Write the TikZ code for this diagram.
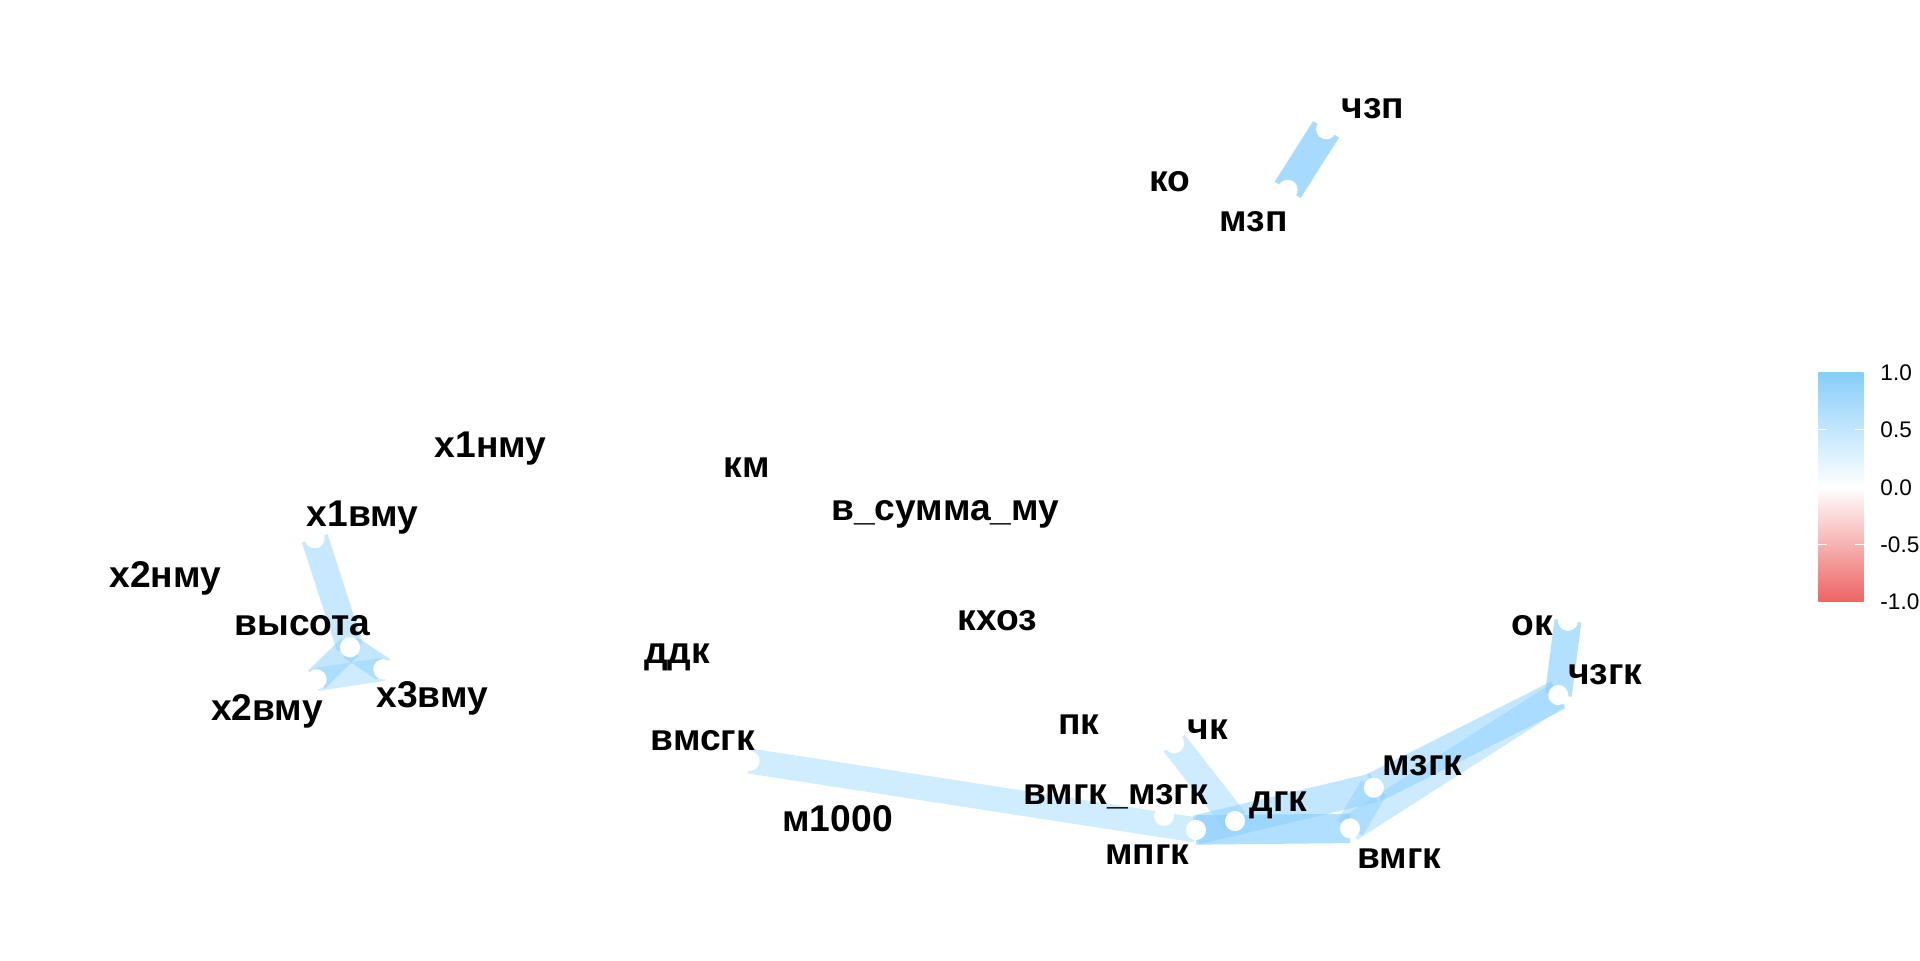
\documentclass[tikz,border=0pt]{standalone}
\usepackage{fontspec}
\setmainfont{Liberation Sans}
\definecolor{edgeblue}{HTML}{87CEFF}
\definecolor{legtop}{HTML}{87CEFA}
\definecolor{legbot}{HTML}{EE6363}
\begin{document}
\begin{tikzpicture}[x=1bp,y=-1bp,
  edge/.style={draw=edgeblue,line cap=butt},
  dot/.style={circle,fill=white,draw=none,minimum size=16.4bp,inner sep=0pt},
  lab/.style={anchor=base,inner sep=0pt,font=\fontsize{30.5}{30.5}\selectfont\bfseries},
  leglab/.style={anchor=west,inner sep=0pt,font=\fontsize{18.5}{18.5}\selectfont},
  tick/.style={draw=white,line width=1bp}]
\path[use as bounding box] (0,0) rectangle (1568,784);
% node positions
\coordinate (czp) at (1083,105.6);
\coordinate (mzp) at (1051.6,155);
\coordinate (x1vmu) at (257,439.6);
\coordinate (vys) at (285.8,528.6);
\coordinate (x2vmu) at (258.6,554.8);
\coordinate (x3vmu) at (313,546.6);
\coordinate (vmsgk) at (612.2,621.5);
\coordinate (vmgkmzgk) at (950.6,666.4);
\coordinate (mpgk) at (976.7,677.8);
\coordinate (dgk) at (1008.6,670.5);
\coordinate (ck) at (958.9,607);
\coordinate (mzgk) at (1122,643.3);
\coordinate (vmgk) at (1102.5,676.5);
\coordinate (czgk) at (1272.6,567.6);
\coordinate (ok) at (1280.5,507);
% edges
\draw[edge,line width=25bp,draw opacity=0.74] (czp) -- (mzp);
\draw[edge,line width=22bp,draw opacity=0.47] (x1vmu) -- (vys);
\draw[edge,line width=20bp,draw opacity=0.5] (vys) -- (x2vmu);
\draw[edge,line width=20bp,draw opacity=0.5] (vys) -- (x3vmu);
\draw[edge,line width=19bp,draw opacity=0.4] (x2vmu) -- (x3vmu);
\draw[edge,line width=20.5bp,draw opacity=0.39] (vmsgk) -- (mpgk);
\draw[edge,line width=22bp,draw opacity=0.4] (ck) -- (dgk);
\draw[edge,line width=24bp,draw opacity=0.65] (mpgk) -- (vmgk);
\draw[edge,line width=24bp,draw opacity=0.5] (mpgk) -- (mzgk);
\draw[edge,line width=24bp,draw opacity=0.45] (vmgk) -- (mzgk);
\draw[edge,line width=25bp,draw opacity=0.5] (mzgk) -- (czgk);
\draw[edge,line width=22bp,draw opacity=0.42] (vmgk) -- (czgk);
\draw[edge,line width=22bp,draw opacity=0.64] (ok) -- (czgk);
% dots
\foreach \p in {czp,mzp,x1vmu,vys,x2vmu,x3vmu,vmsgk,vmgkmzgk,mpgk,dgk,ck,mzgk,vmgk,czgk,ok}
  \node[dot] (d-\p) at (\p) {};
% labels
\node[lab] (l-czp) at (1121,96.4) {чзп};
\node[lab] (l-ko) at (955.6,156.5) {ко};
\node[lab] (l-mzp) at (1024,189.2) {мзп};
\node[lab] (l-x1nmu) at (400.6,374) {х1нму};
\node[lab] (l-km) at (610,390) {км};
\node[lab] (l-vsum) at (772,424.7) {в\_сумма\_му};
\node[lab] (l-x1vmu) at (296,430) {х1вму};
\node[lab] (l-x2nmu) at (135,480) {х2нму};
\node[lab] (l-vys) at (247,518.6) {высота};
\node[lab] (l-khoz) at (814.6,514.5) {кхоз};
\node[lab] (l-ddk) at (553,541.6) {ддк};
\node[lab] (l-ok) at (1251.5,518.6) {ок};
\node[lab] (l-x2vmu) at (218,588) {х2вму};
\node[lab] (l-x3vmu) at (353,577.6) {х3вму};
\node[lab] (l-czgk) at (1311,559.4) {чзгк};
\node[lab] (l-pk) at (881,600) {пк};
\node[lab] (l-ck) at (986.6,604) {чк};
\node[lab] (l-vmsgk) at (574,612.5) {вмсгк};
\node[lab] (l-mzgk) at (1161.6,633.7) {мзгк};
\node[lab] (l-vmgkmzgk) at (911,657.4) {вмгк\_мзгк};
\node[lab] (l-dgk) at (1044,662.9) {дгк};
\node[lab] (l-m1000) at (684,679) {м1000};
\node[lab] (l-mpgk) at (937,706.4) {мпгк};
\node[lab] (l-vmgk) at (1142.7,709) {вмгк};
% legend
\shade[top color=legtop,bottom color=legbot,middle color=white] (1485,304.6) rectangle (1522,491.6);
\foreach \yy in {351,444.6}{
  \draw[tick] (1485,\yy) -- (1492,\yy);
  \draw[tick] (1515,\yy) -- (1522,\yy);
}
\node[leglab] (g1) at (1535.5,304.6) {1.0};
\node[leglab] (g2) at (1535.5,351) {0.5};
\node[leglab] (g3) at (1535.5,398) {0.0};
\node[leglab] (g4) at (1535.5,444.6) {-0.5};
\node[leglab] (g5) at (1535.5,491.6) {-1.0};
\end{tikzpicture}
\end{document}
